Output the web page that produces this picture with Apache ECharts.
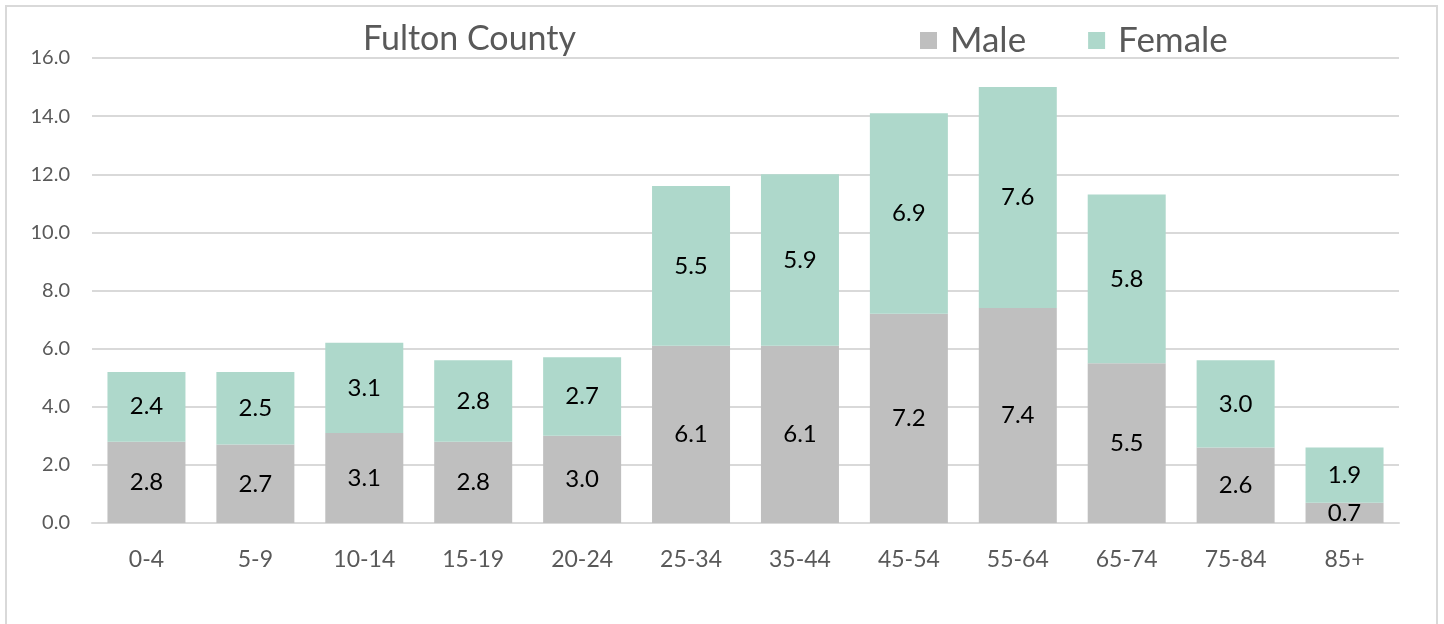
<!DOCTYPE html>
<html>
<head>
<meta charset="utf-8">
<script src="https://cdn.jsdelivr.net/npm/echarts@6/dist/echarts.min.js"></script>
<style>
  html, body { margin: 0; padding: 0; background: #fff; }
  #main { width: 1444px; height: 624px; }
</style>
</head>
<body>
<div id="main"></div>
<script>
// 年龄组
const categories = ['0-4', '5-9', '10-14', '15-19', '20-24', '25-34', '35-44', '45-54', '55-64', '65-74', '75-84', '85+'];
const maleValues = [2.8, 2.7, 3.1, 2.8, 3.0, 6.1, 6.1, 7.2, 7.4, 5.5, 2.6, 0.7];
const femaleValues = [2.4, 2.5, 3.1, 2.8, 2.7, 5.5, 5.9, 6.9, 7.6, 5.8, 3.0, 1.9];

const font = 'Lato, "Noto Sans", sans-serif';

const myChart = echarts.init(document.getElementById('main'));

const barLabel = {
  show: true,
  position: 'inside',
  color: '#000',
  fontSize: 24,
  fontFamily: font,
  formatter: (p) => p.value.toFixed(1),
};

const option = {
  animation: false,
  title: {
    text: 'Fulton County',
    left: 358,
    top: 17,
    textStyle: { color: '#595959', fontSize: 34, fontWeight: 'normal', fontFamily: font },
  },
  legend: {
    left: 915,
    top: 18,
    itemWidth: 17,
    itemHeight: 17,
    itemGap: 62,
    icon: 'rect',
    textStyle: { color: '#595959', fontSize: 35, fontFamily: font, padding: [0, 0, 0, 8] },
    data: ['Male', 'Female'],
  },
  graphic: [
    {
      type: 'rect',
      shape: { x: 6, y: 6, width: 1431, height: 660 },
      style: { fill: 'none', stroke: '#d9d9d9', lineWidth: 2 },
      silent: true,
    },
  ],
  grid: { left: 92, right: 45, top: 58, bottom: 101, containLabel: false },
  xAxis: {
    type: 'category',
    data: categories,
    axisLine: { lineStyle: { color: '#d9d9d9', width: 2 } },
    axisTick: { show: false },
    axisLabel: { color: '#595959', fontSize: 23, fontFamily: font, margin: 25 },
  },
  yAxis: {
    type: 'value',
    min: 0,
    max: 16,
    interval: 2,
    axisLine: { show: false },
    axisTick: { show: false },
    splitLine: { lineStyle: { color: '#d9d9d9', width: 2 } },
    axisLabel: {
      color: '#595959',
      fontSize: 20,
      fontFamily: font,
      margin: 22,
      formatter: (v) => v.toFixed(1),
    },
  },
  series: [
    {
      name: 'Male',
      type: 'bar',
      stack: 'total',
      data: maleValues,
      barWidth: 78,
      itemStyle: { color: '#bfbfbf' },
      label: barLabel,
    },
    {
      name: 'Female',
      type: 'bar',
      stack: 'total',
      data: femaleValues,
      barWidth: 78,
      itemStyle: { color: '#aed8cb' },
      label: barLabel,
    },
  ],
};

option && myChart.setOption(option);
</script>
</body>
</html>
